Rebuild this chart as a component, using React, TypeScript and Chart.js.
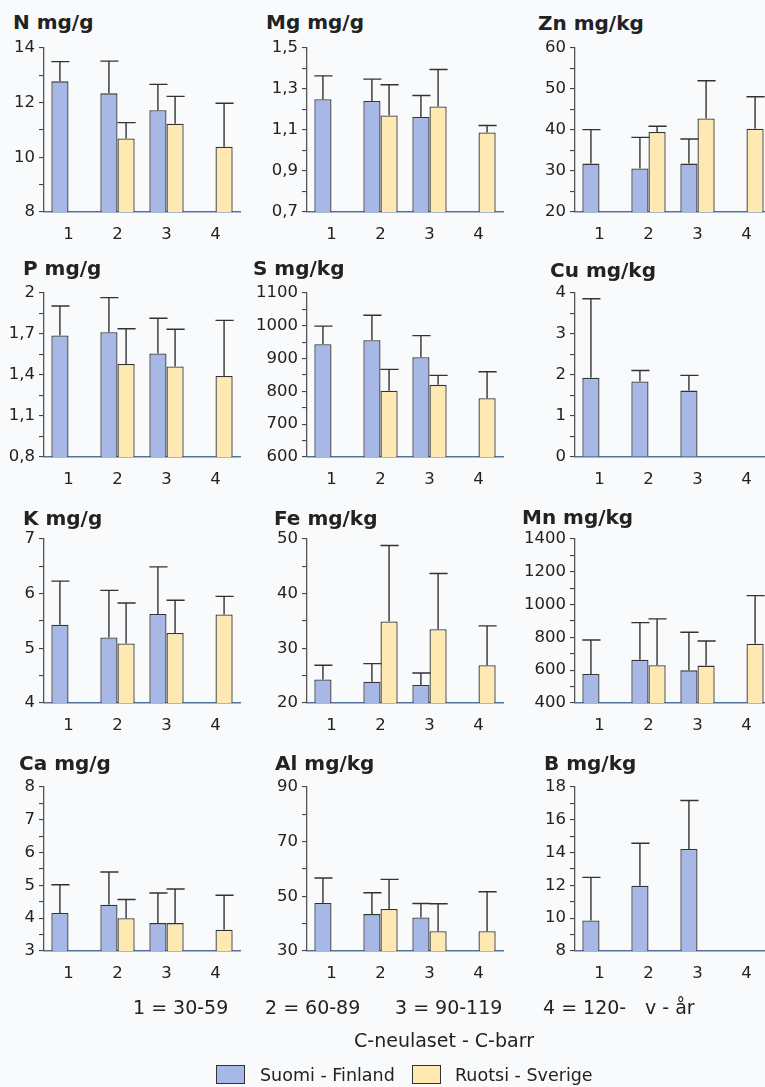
import React, { useEffect, useRef } from 'react';
import { Chart, registerables } from 'chart.js';

Chart.register(...registerables);

// ---------- data ----------
const categories = ['1', '2', '3', '4'];
const seriesNames = ['Suomi - Finland', 'Ruotsi - Sverige'];
const ageClasses = ['1 = 30-59', '2 = 60-89', '3 = 90-119', '4 = 120-', 'v - år'];
const subtitle = 'C-neulaset - C-barr';

const titles = ['N mg/g', 'Mg mg/g', 'Zn mg/kg', 'P mg/g', 'S mg/kg', 'Cu mg/kg', 'K mg/g', 'Fe mg/kg', 'Mn mg/kg', 'Ca mg/g', 'Al mg/kg', 'B mg/kg'];

const yMin = [8, 0.7, 20, 0.8, 600, 0, 4, 20, 400, 3, 30, 8];
const yMax = [14, 1.5, 60, 2, 1100, 4, 7, 50, 1400, 8, 90, 18];
const yStep = [1, 0.1, 5, 0.15, 50, 0.5, 0.5, 5, 100, 0.5, 10, 1];

const nFin = [12.78, 12.34, 11.72, null];
const nFinErr = [13.5, 13.52, 12.67, null];
const nSwe = [null, 10.69, 11.23, 10.39];
const nSweErr = [null, 11.27, 12.23, 11.98];

const mgFin = [1.25, 1.242, 1.164, null];
const mgFinErr = [1.364, 1.348, 1.268, null];
const mgSwe = [null, 1.171, 1.215, 1.088];
const mgSweErr = [null, 1.321, 1.395, 1.122];

const znFin = [31.8, 30.6, 31.8, null];
const znFinErr = [40.1, 38.2, 37.8, null];
const znSwe = [null, 39.5, 42.8, 40.3];
const znSweErr = [null, 40.9, 52.0, 48.1];

const pFin = [1.689, 1.713, 1.558, null];
const pFinErr = [1.905, 1.966, 1.815, null];
const pSwe = [null, 1.48, 1.463, 1.393];
const pSweErr = [null, 1.738, 1.735, 1.8];

const sFin = [944, 956, 904, null];
const sFinErr = [999, 1032, 970, null];
const sSwe = [null, 802, 820, 779];
const sSweErr = [null, 867, 849, 860];

const cuFin = [1.93, 1.84, 1.62, null];
const cuFinErr = [3.86, 2.11, 1.99, null];
const cuSwe = [null, null, null, null];
const cuSweErr = [null, null, null, null];

const kFin = [5.43, 5.2, 5.63, null];
const kFinErr = [6.23, 6.06, 6.49, null];
const kSwe = [null, 5.09, 5.28, 5.62];
const kSweErr = [null, 5.83, 5.88, 5.95];

const feFin = [24.3, 23.9, 23.3, null];
const feFinErr = [26.9, 27.2, 25.5, null];
const feSwe = [null, 34.9, 33.5, 26.9];
const feSweErr = [null, 48.8, 43.7, 34.1];

const mnFin = [577, 664, 599, null];
const mnFinErr = [784, 890, 831, null];
const mnSwe = [null, 630, 628, 762];
const mnSweErr = [null, 913, 778, 1055];

const caFin = [4.16, 4.41, 3.85, null];
const caFinErr = [5.02, 5.41, 4.77, null];
const caSwe = [null, 4.0, 3.85, 3.65];
const caSweErr = [null, 4.57, 4.89, 4.7];

const alFin = [47.6, 43.5, 42.3, null];
const alFinErr = [56.7, 51.3, 47.4, null];
const alSwe = [null, 45.4, 37.2, 37.2];
const alSweErr = [null, 56.2, 47.3, 51.7];

const bFin = [9.86, 11.98, 14.22, null];
const bFinErr = [12.49, 14.57, 17.18, null];
const bSwe = [null, null, null, null];
const bSweErr = [null, null, null, null];

const finValues = [nFin, mgFin, znFin, pFin, sFin, cuFin, kFin, feFin, mnFin, caFin, alFin, bFin];
const finErrors = [nFinErr, mgFinErr, znFinErr, pFinErr, sFinErr, cuFinErr, kFinErr, feFinErr, mnFinErr, caFinErr, alFinErr, bFinErr];
const sweValues = [nSwe, mgSwe, znSwe, pSwe, sSwe, cuSwe, kSwe, feSwe, mnSwe, caSwe, alSwe, bSwe];
const sweErrors = [nSweErr, mgSweErr, znSweErr, pSweErr, sSweErr, cuSweErr, kSweErr, feSweErr, mnSweErr, caSweErr, alSweErr, bSweErr];

// ---------- layout / style ----------
const COL_AXIS_X = [44, 307, 575];
const ROW_TOP = [48, 293, 539, 787];
const PLOT_H = 164;
const PLOT_W = 196;
const Y_AXIS_W = 64;
const PAD_TOP = 16;
const X_AXIS_H = 44;
const TITLE_POS = [
  [13, 22], [266, 22], [538, 23],
  [23, 268], [253, 268], [550, 270],
  [23, 518], [274, 518], [522, 517],
  [19, 763], [275, 763], [544, 763],
];
const BLUE = '#a7b8e6';
const YELLOW = '#fde9b1';
const BG = '#f8fafc';
const FONT = "'DejaVu Sans', sans-serif";

const errorBarPlugin = {
  id: 'errorBars',
  afterDatasetsDraw(chart: any) {
    const ctx = chart.ctx;
    const yScale = chart.scales.y;
    chart.data.datasets.forEach((ds: any, i: number) => {
      const meta = chart.getDatasetMeta(i);
      const errs = ds.errorTops || [];
      meta.data.forEach((bar: any, j: number) => {
        const v = ds.data[j];
        const e = errs[j];
        if (v == null || e == null) return;
        const p = bar.getProps(['x', 'y', 'width'], true);
        const ye = yScale.getPixelForValue(e);
        ctx.save();
        ctx.strokeStyle = '#333';
        ctx.lineWidth = 1.4;
        ctx.beginPath();
        ctx.moveTo(p.x, p.y);
        ctx.lineTo(p.x, ye);
        ctx.moveTo(p.x - p.width / 2, ye);
        ctx.lineTo(p.x + p.width / 2 + 1, ye);
        ctx.stroke();
        ctx.restore();
      });
    });
  },
};

function fmt(v: number) {
  return String(Math.round(v * 100) / 100).replace('.', ',');
}

function Panel({ idx }: { idx: number }) {
  const ref = useRef<HTMLCanvasElement>(null);
  const col = idx % 3;
  const row = Math.floor(idx / 3);
  const left = COL_AXIS_X[col] - Y_AXIS_W;
  const top = ROW_TOP[row] - PAD_TOP;
  const width = Y_AXIS_W + PLOT_W + 10;
  const height = PAD_TOP + PLOT_H + X_AXIS_H;

  useEffect(() => {
    if (!ref.current) return;
    const chart = new Chart(ref.current, {
      type: 'bar',
      data: {
        labels: categories,
        datasets: [
          {
            label: seriesNames[0],
            data: finValues[idx],
            errorTops: finErrors[idx],
            backgroundColor: BLUE,
            borderColor: '#333',
            borderWidth: 1.3,
          } as any,
          {
            label: seriesNames[1],
            data: sweValues[idx],
            errorTops: sweErrors[idx],
            backgroundColor: YELLOW,
            borderColor: '#333',
            borderWidth: 1.3,
          } as any,
        ],
      },
      options: {
        responsive: false,
        animation: false,
        devicePixelRatio: 1,
        layout: { padding: { top: PAD_TOP, left: 0, right: 10, bottom: 0 } },
        datasets: { bar: { categoryPercentage: 0.7, barPercentage: 1.0 } },
        plugins: { legend: { display: false }, tooltip: { enabled: false }, title: { display: false } },
        scales: {
          x: {
            type: 'category',
            grid: { display: false, drawTicks: false },
            border: { display: true, color: '#52739e', width: 1.5 },
            ticks: { color: '#222', font: { family: FONT, size: 16.5 }, padding: 13 },
            afterFit: (s: any) => { s.height = X_AXIS_H; },
          },
          y: {
            type: 'linear',
            min: yMin[idx],
            max: yMax[idx],
            grid: { display: true, drawOnChartArea: false, drawTicks: true, tickLength: 5, color: '#444', lineWidth: 1.1 },
            border: { display: true, color: '#555', width: 1.3 },
            ticks: {
              stepSize: yStep[idx],
              autoSkip: false,
              color: '#222',
              padding: 4,
              font: { family: FONT, size: 16.5 },
              callback: (value: any, index: number) => (index % 2 === 0 ? fmt(Number(value)) : ''),
            },
            afterFit: (s: any) => { s.width = Y_AXIS_W; },
          },
        },
      } as any,
      plugins: [errorBarPlugin],
    });
    return () => chart.destroy();
  }, [idx]);

  return (
    <>
      <div
        style={{
          position: 'absolute',
          left: TITLE_POS[idx][0],
          top: TITLE_POS[idx][1] - 13,
          height: 26,
          lineHeight: '26px',
          fontFamily: FONT,
          fontWeight: 'bold',
          fontSize: 20,
          color: '#222',
          whiteSpace: 'nowrap',
        }}
      >
        {titles[idx]}
      </div>
      <canvas
        ref={ref}
        width={width}
        height={height}
        style={{ position: 'absolute', left, top, width, height }}
      />
    </>
  );
}

const AGE_X = [133, 265, 395, 543, 645];

export default function App() {
  const textStyle: React.CSSProperties = {
    position: 'absolute',
    fontFamily: FONT,
    fontSize: 19,
    color: '#222',
    whiteSpace: 'nowrap',
    lineHeight: '24px',
  };
  return (
    <div
      style={{
        position: 'fixed',
        left: 0,
        top: 0,
        width: 765,
        height: 1087,
        overflow: 'hidden',
        background: BG,
      }}
    >
      {titles.map((_, i) => (
        <Panel key={i} idx={i} />
      ))}
      {ageClasses.map((t, i) => (
        <div key={t} style={{ ...textStyle, left: AGE_X[i], top: 1007 - 12 }}>
          {t}
        </div>
      ))}
      <div style={{ ...textStyle, left: 244, width: 400, textAlign: 'center', top: 1040 - 12 }}>{subtitle}</div>
      <div style={{ position: 'absolute', left: 216, top: 1065, width: 29, height: 19, background: BLUE, border: '1.3px solid #333', boxSizing: 'border-box' }} />
      <div style={{ ...textStyle, fontSize: 17.5, left: 260, top: 1075 - 12 }}>{seriesNames[0]}</div>
      <div style={{ position: 'absolute', left: 412, top: 1065, width: 29, height: 19, background: YELLOW, border: '1.3px solid #333', boxSizing: 'border-box' }} />
      <div style={{ ...textStyle, fontSize: 17.5, left: 455, top: 1075 - 12 }}>{seriesNames[1]}</div>
    </div>
  );
}
